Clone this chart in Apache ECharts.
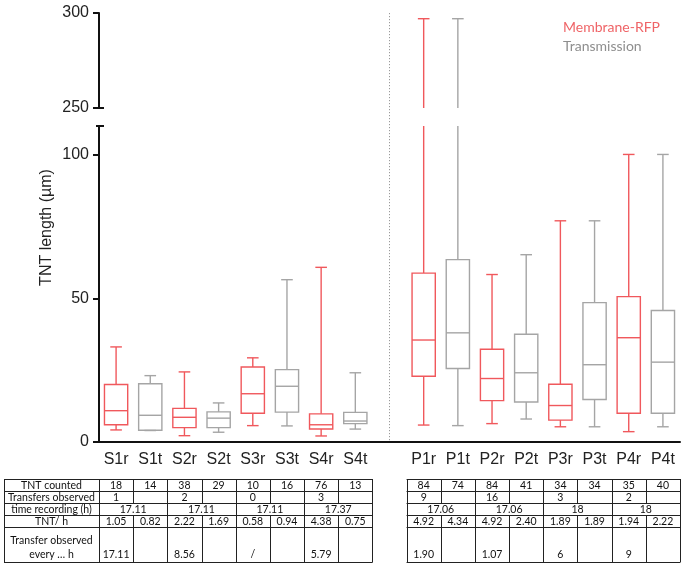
<!DOCTYPE html>
<html><head><meta charset="utf-8">
<script src="https://cdn.jsdelivr.net/npm/echarts@6/dist/echarts.min.js"></script>
<style>html,body{margin:0;padding:0;background:#fff}#c{width:685px;height:570px}</style>
</head><body><div id="c"></div>
<script>
// ---------- data ----------
const sGroups = ['S1r','S1t','S2r','S2t','S3r','S3t','S4r','S4t'];
const pGroups = ['P1r','P1t','P2r','P2t','P3r','P3t','P4r','P4t'];
const whiskerLow  = [4.2, 4.0, 2.2, 3.4, 5.7, 5.6, 2.1, 4.5,   5.9, 5.7, 6.4, 8.0, 5.3, 5.3, 3.6, 5.3];
const q1Values    = [6.0, 4.1, 5.0, 5.0, 10.0, 10.4, 4.5, 6.4, 22.9, 25.6, 14.4, 13.9, 7.6, 14.8, 10.0, 10.0];
const medians     = [10.9, 9.3, 8.6, 8.3, 16.8, 19.4, 6.0, 7.3, 35.5, 38.0, 22.1, 24.1, 12.7, 26.9, 36.3, 27.8];
const q3Values    = [20.0, 20.3, 11.7, 10.5, 26.1, 25.2, 9.8, 10.3, 58.8, 63.5, 32.3, 37.5, 20.1, 48.5, 50.6, 45.8];
const whiskerHigh = [33.1, 23.1, 24.4, 13.6, 29.3, 56.5, 60.8, 24.1, 297, 297, 58.3, 65.2, 77.0, 77.0, 100.1, 100.1];
const lowerTicks = [0, 50, 100];
const upperTicks = [250, 300];

const rowLabels = ['TNT counted', 'Transfers observed', 'time recording (h)', 'TNT/ h', 'Transfer observed\nevery … h'];
const tntCounted = ['18','14','38','29','10','16','76','13', '84','74','84','41','34','34','35','40'];
const transfersObserved = ['1','','2','','0','','3','', '9','','16','','3','','2',''];
const timeRecording = ['17.11','17.11','17.11','17.37', '17.06','17.06','18','18']; // one per pair
const tntPerHour = ['1.05','0.82','2.22','1.69','0.58','0.94','4.38','0.75', '4.92','4.34','4.92','2.40','1.89','1.89','1.94','2.22'];
const transferEvery = ['17.11','','8.56','','/','','5.79','', '1.90','','1.07','','6','','9',''];

// ---------- build ----------
const RED = '#F0585C', GRAY = '#A5A5A5';
const groups = sGroups.concat(pGroups);
const categories = sGroups.concat([''], pGroups);
const boxData = groups.map((g, i) => {
  const ci = categories.indexOf(g);
  return [ci, whiskerLow[i], q1Values[i], medians[i], q3Values[i], whiskerHigh[i], g.endsWith('r') ? 1 : 0];
});

function renderBox(params, api) {
  const ci = api.value(0);
  const x = api.coord([ci, 0])[0];
  const band = api.size([1, 0])[0];
  const bw = band * 0.68, cw = band * 0.34;
  const y = v => api.coord([ci, v])[1];
  const color = api.value(6) === 1 ? RED : GRAY;
  const st = { stroke: color, lineWidth: 1.4, fill: null };
  const yLo = y(api.value(1)), yA = y(api.value(2)), yM = y(api.value(3)), yB = y(api.value(4)), yHi = y(api.value(5));
  return { type: 'group', children: [
    { type: 'line', shape: { x1: x, y1: yHi, x2: x, y2: yB }, style: st },
    { type: 'line', shape: { x1: x, y1: yA, x2: x, y2: yLo }, style: st },
    { type: 'line', shape: { x1: x - cw/2, y1: yHi, x2: x + cw/2, y2: yHi }, style: st },
    { type: 'line', shape: { x1: x - cw/2, y1: yLo, x2: x + cw/2, y2: yLo }, style: st },
    { type: 'rect', shape: { x: x - bw/2, y: yB, width: bw, height: yA - yB }, style: st },
    { type: 'line', shape: { x1: x - bw/2, y1: yM, x2: x + bw/2, y2: yM }, style: st }
  ]};
}

const FONT = 'Liberation Sans';
const axisLineStyle = { color: '#111', width: 2 };
const chart = echarts.init(document.getElementById('c'), null, { renderer: 'canvas' });
chart.setOption({
  animation: false,
  grid: [
    { left: 99, right: 5, top: 13, height: 95 },
    { left: 99, right: 5, top: 126, height: 316 }
  ],
  xAxis: [
    { type: 'category', gridIndex: 0, data: categories, show: false },
    { type: 'category', gridIndex: 1, data: categories,
      axisLine: { lineStyle: axisLineStyle },
      axisTick: { alignWithLabel: true, length: 5, lineStyle: axisLineStyle,
                  interval: (i, v) => v !== '' },
      axisLabel: { interval: 0, fontSize: 16, fontFamily: FONT, color: '#222', margin: 10 } }
  ],
  yAxis: [
    { type: 'value', gridIndex: 0, min: 250, max: 300, interval: 50,
      axisLine: { show: true, lineStyle: axisLineStyle },
      axisTick: { show: true, length: 6, lineStyle: axisLineStyle, customValues: upperTicks },
      axisLabel: { fontSize: 16, fontFamily: FONT, color: '#222', margin: 10, customValues: upperTicks },
      splitLine: { show: false } },
    { type: 'value', gridIndex: 1, min: 0, max: 110, interval: 50,
      axisLine: { show: true, lineStyle: axisLineStyle },
      axisTick: { show: true, length: 6, lineStyle: axisLineStyle, customValues: lowerTicks },
      axisLabel: { fontSize: 16, fontFamily: FONT, color: '#222', margin: 10, customValues: lowerTicks },
      splitLine: { show: false } }
  ],
  series: [
    { type: 'custom', xAxisIndex: 0, yAxisIndex: 0, clip: true, renderItem: renderBox, data: boxData },
    { type: 'custom', xAxisIndex: 1, yAxisIndex: 1, clip: true, renderItem: renderBox, data: boxData }
  ]
});

// ---------- decorations & table ----------
const gx = i => chart.convertToPixel({ xAxisIndex: 1 }, i);
const band = gx(1) - gx(0);
const yU = v => chart.convertToPixel({ yAxisIndex: 0 }, v);
const yL = v => chart.convertToPixel({ yAxisIndex: 1 }, v);
const axisX = gx(0) - band / 2;
const els = [];
const gapX = gx(categories.indexOf(''));
els.push({ type: 'line', shape: { x1: gapX, y1: yU(300), x2: gapX, y2: yL(0) },
  style: { stroke: '#9a9a9a', lineWidth: 1, lineDash: [1.2, 1.8] }, z: 1 });
// axis break caps
els.push({ type: 'line', shape: { x1: axisX, y1: yU(250), x2: axisX + 5, y2: yU(250) }, style: { stroke: '#111', lineWidth: 2 } });
els.push({ type: 'line', shape: { x1: axisX - 3, y1: yL(110), x2: axisX + 5, y2: yL(110) }, style: { stroke: '#111', lineWidth: 2 } });
// y title
els.push({ type: 'text', x: 47, y: (yU(300) + yL(0)) / 2, rotation: Math.PI / 2,
  style: { text: 'TNT length (µm)', font: '16px "Liberation Sans"', fill: '#222', align: 'center', verticalAlign: 'middle' } });
// legend
els.push({ type: 'text', x: 563, y: 27, style: { text: 'Membrane-RFP', font: '14px Lato', fill: '#EF6467', verticalAlign: 'middle' } });
els.push({ type: 'text', x: 563, y: 46, style: { text: 'Transmission', font: '14px Lato', fill: '#8E8E8E', verticalAlign: 'middle' } });

// table
const rowEdges = [479, 491, 503, 515, 527, 562];
const TF = '10.5px Lato';
const lineSt = { stroke: '#222', lineWidth: 1 };
const rows = [tntCounted, transfersObserved, null, tntPerHour, transferEvery];
function drawTable(startIdx, withLabels) {
  const colLeft = k => gx(categories.indexOf(groups[startIdx + k])) - band / 2;
  const left = withLabels ? 4 : colLeft(0);
  const right = colLeft(7) + band;
  rowEdges.forEach(y => els.push({ type: 'line', shape: { x1: left, y1: y + 0.5, x2: right, y2: y + 0.5 }, style: lineSt }));
  const xs = [];
  if (withLabels) xs.push({ x: 4, all: true });
  for (let k = 0; k <= 8; k++) xs.push({ x: colLeft(0) + k * band, all: k % 2 === 0 });
  xs.forEach(o => {
    const x = Math.round(o.x) + 0.5;
    if (o.all) {
      els.push({ type: 'line', shape: { x1: x, y1: rowEdges[0], x2: x, y2: rowEdges[5] + 0.5 }, style: lineSt });
    } else {
      els.push({ type: 'line', shape: { x1: x, y1: rowEdges[0], x2: x, y2: rowEdges[2] + 0.5 }, style: lineSt });
      els.push({ type: 'line', shape: { x1: x, y1: rowEdges[3], x2: x, y2: rowEdges[5] + 0.5 }, style: lineSt });
    }
  });
  if (withLabels) {
    rowLabels.forEach((t, r) => {
      const lines = t.split('\n');
      lines.forEach((ln, j) => {
        const yc = r < 4 ? (rowEdges[r] + rowEdges[r + 1]) / 2 + 1 : rowEdges[5] - 7 - (lines.length - 1 - j) * 14;
        els.push({ type: 'text', x: (4 + colLeft(0)) / 2, y: yc, style: { text: ln, font: TF, fill: '#111', align: 'center', verticalAlign: 'middle' } });
      });
    });
  }
  for (let k = 0; k < 8; k++) {
    const cx = colLeft(k) + band / 2;
    [0, 1, 3].forEach(r => {
      els.push({ type: 'text', x: cx, y: (rowEdges[r] + rowEdges[r + 1]) / 2 + 1,
        style: { text: rows[r][startIdx + k], font: TF, fill: '#111', align: 'center', verticalAlign: 'middle' } });
    });
    els.push({ type: 'text', x: cx, y: rowEdges[5] - 7,
      style: { text: transferEvery[startIdx + k], font: TF, fill: '#111', align: 'center', verticalAlign: 'middle' } });
  }
  for (let p = 0; p < 4; p++) {
    els.push({ type: 'text', x: colLeft(2 * p) + band, y: (rowEdges[2] + rowEdges[3]) / 2 + 1,
      style: { text: timeRecording[startIdx / 2 + p], font: TF, fill: '#111', align: 'center', verticalAlign: 'middle' } });
  }
}
drawTable(0, true);
drawTable(8, false);
chart.setOption({ graphic: { elements: els } });
</script></body></html>
